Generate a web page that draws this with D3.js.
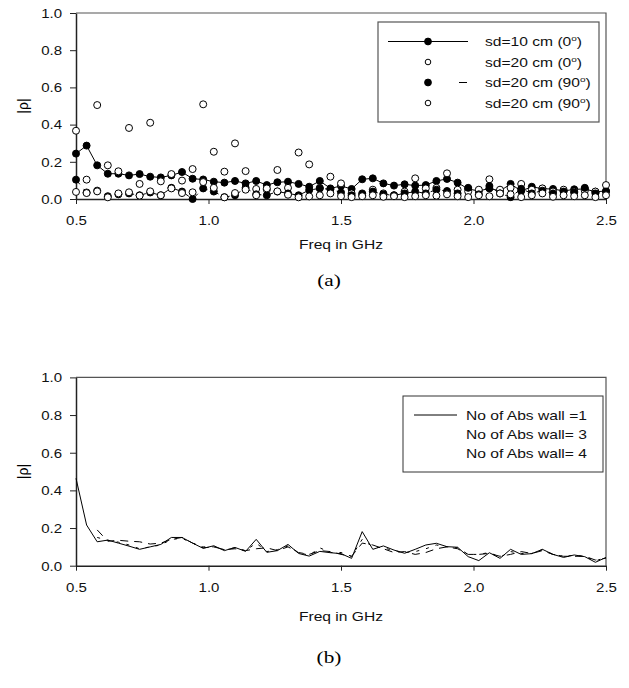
<!DOCTYPE html>
<html>
<head>
<meta charset="utf-8">
<script src="https://cdn.jsdelivr.net/npm/d3@7"></script>
<style>
body { margin: 0; background: #fff; }
text { font-family: "Liberation Sans", Arial, sans-serif; }
</style>
</head>
<body>
<script>
// frequency points (GHz)
var freq = [0.50, 0.54, 0.58, 0.62, 0.66, 0.70, 0.74, 0.78, 0.82, 0.86,
            0.90, 0.94, 0.98, 1.02, 1.06, 1.10, 1.14, 1.18, 1.22, 1.26,
            1.30, 1.34, 1.38, 1.42, 1.46, 1.50, 1.54, 1.58, 1.62, 1.66,
            1.70, 1.74, 1.78, 1.82, 1.86, 1.90, 1.94, 1.98, 2.02, 2.06,
            2.10, 2.14, 2.18, 2.22, 2.26, 2.30, 2.34, 2.38, 2.42, 2.46, 2.50];

// (a)
var sd10_0 = [0.244, 0.287, 0.181, 0.136, 0.136, 0.127, 0.134, 0.120, 0.116, 0.127,
              0.145, 0.109, 0.105, 0.093, 0.088, 0.097, 0.084, 0.097, 0.075, 0.090,
              0.093, 0.081, 0.066, 0.097, 0.057, 0.070, 0.054, 0.106, 0.111, 0.084,
              0.072, 0.079, 0.072, 0.075, 0.097, 0.108, 0.088, 0.054, 0.043, 0.057,
              0.043, 0.081, 0.043, 0.066, 0.055, 0.054, 0.043, 0.052, 0.054, 0.039, 0.043];
var sd20_0 = [0.367, 0.104, 0.505, 0.181, 0.149, 0.382, 0.081, 0.410, 0.095, 0.134,
              0.099, 0.161, 0.509, 0.254, 0.147, 0.299, 0.150, 0.054, 0.050, 0.156,
              0.060, 0.250, 0.186, 0.060, 0.120, 0.084, 0.030, 0.020, 0.050, 0.030,
              0.020, 0.040, 0.111, 0.057, 0.060, 0.138, 0.050, 0.040, 0.050, 0.106,
              0.050, 0.060, 0.081, 0.050, 0.057, 0.040, 0.050, 0.040, 0.045, 0.040, 0.075];
var sd20_90a = [0.104, 0.035, 0.045, 0.015, 0.025, 0.030, 0.020, 0.035, 0.020, 0.060,
                0.040, 0.000, 0.057, 0.040, 0.010, 0.020, 0.060, 0.025, 0.020, 0.040,
                0.030, 0.020, 0.048, 0.057, 0.052, 0.035, 0.020, 0.030, 0.040, 0.025,
                0.020, 0.030, 0.040, 0.030, 0.050, 0.043, 0.030, 0.060, 0.025, 0.070,
                0.030, 0.010, 0.055, 0.030, 0.045, 0.030, 0.040, 0.035, 0.060, 0.030, 0.040];
var sd20_90b = [0.038, 0.032, 0.041, 0.009, 0.030, 0.036, 0.018, 0.041, 0.020, 0.057,
                0.032, 0.036, 0.091, 0.060, 0.009, 0.032, 0.050, 0.020, 0.057, 0.041,
                0.023, 0.009, 0.014, 0.020, 0.030, 0.015, 0.010, 0.015, 0.020, 0.012,
                0.015, 0.010, 0.015, 0.020, 0.018, 0.025, 0.015, 0.010, 0.020, 0.015,
                0.030, 0.025, 0.010, 0.020, 0.030, 0.012, 0.020, 0.015, 0.020, 0.010, 0.020];

// (b)
var wall1 = [0.464, 0.216, 0.127, 0.136, 0.120, 0.104, 0.087, 0.100, 0.113, 0.150,
             0.150, 0.120, 0.092, 0.106, 0.080, 0.097, 0.076, 0.140, 0.071, 0.080,
             0.113, 0.065, 0.051, 0.076, 0.069, 0.064, 0.039, 0.181, 0.087, 0.105,
             0.083, 0.066, 0.087, 0.110, 0.119, 0.101, 0.098, 0.048, 0.027, 0.069,
             0.039, 0.087, 0.060, 0.064, 0.087, 0.060, 0.044, 0.057, 0.048, 0.018, 0.044];
var wall3 = [null, null, 0.190, 0.130, 0.135, 0.130, 0.127, 0.115, 0.120, 0.140,
             0.150, 0.120, 0.095, 0.100, 0.085, 0.090, 0.080, 0.090, 0.095, 0.080,
             0.100, 0.070, 0.060, 0.080, 0.075, 0.060, 0.050, 0.120, 0.110, 0.090,
             0.070, 0.075, 0.060, 0.070, 0.090, 0.100, 0.090, 0.060, 0.060, 0.065,
             0.050, 0.060, 0.075, 0.065, 0.080, 0.060, 0.050, 0.050, 0.050, 0.030, 0.040];
var wall4 = [null, null, 0.150, 0.135, 0.125, 0.110, 0.090, 0.100, 0.110, 0.140,
             0.145, 0.120, 0.100, 0.100, 0.085, 0.095, 0.080, 0.120, 0.075, 0.085,
             0.105, 0.070, 0.055, 0.095, 0.070, 0.070, 0.050, 0.140, 0.100, 0.095,
             0.080, 0.070, 0.075, 0.090, 0.110, 0.100, 0.095, 0.060, 0.060, 0.070,
             0.045, 0.075, 0.065, 0.065, 0.085, 0.060, 0.050, 0.055, 0.050, 0.025, 0.045];

var yTicks = [0.0, 0.2, 0.4, 0.6, 0.8, 1.0];
var xTicks = [0.5, 1.0, 1.5, 2.0, 2.5];

// the original figure is stretched sideways, so text is widened a bit
var sx = 1.25;

var svg = d3.select("body")
        .append("svg")
        .attr("width", 629)
        .attr("height", 688);

function zip(a1, a2) {
    var zipped = [];
    for (var i = 0; i < a1.length; i++) {
        zipped.push([a1[i], a2[i]]);
    }
    return zipped;
}

function label(x, y, txt, size, anchor) {
    return svg.append("text")
        .attr("transform", "translate(" + x + "," + y + ") scale(" + sx + ",1)")
        .attr("text-anchor", anchor || "start")
        .attr("font-size", size)
        .attr("fill", "#111")
        .text(txt);
}

function drawFrame(top, bottom, caption, titleY, captionY) {
    var x = d3.scaleLinear().domain([0.5, 2.5]).range([76, 606]);
    var y = d3.scaleLinear().domain([0, 1]).range([bottom, top]);

    // top / right border
    svg.append("path")
        .attr("d", "M76," + top + "H606V" + bottom)
        .attr("fill", "none")
        .attr("stroke", "#555")
        .attr("stroke-width", 1.2);

    var xAxis = svg.append("g")
        .attr("transform", "translate(0," + bottom + ")")
        .call(d3.axisBottom(x).tickValues(xTicks).tickFormat(d3.format(".1f")).tickSize(5).tickSizeOuter(0));
    var yAxis = svg.append("g")
        .attr("transform", "translate(76,0)")
        .call(d3.axisLeft(y).tickValues(yTicks).tickFormat(d3.format(".1f")).tickSize(6).tickSizeOuter(0));

    [xAxis, yAxis].forEach(g => {
        g.select(".domain").attr("stroke", "#222").attr("stroke-width", 1.5);
        g.selectAll(".tick line").attr("stroke", "#222");
        g.selectAll("text")
            .attr("font-family", "Liberation Sans, Arial, sans-serif")
            .attr("font-size", 12)
            .attr("fill", "#111")
            .attr("x", 0).attr("y", 0).attr("dy", 0);
    });
    xAxis.selectAll("text").attr("transform", "translate(0,26) scale(" + sx + ",1)");
    yAxis.selectAll("text").attr("transform", "translate(-14,4.3) scale(" + sx + ",1)");

    label(341, titleY, "Freq in GHz", 12.5, "middle");

    svg.append("text")
        .attr("transform", "translate(28," + ((top + bottom) / 2) + ") rotate(-90)")
        .attr("text-anchor", "middle")
        .attr("font-size", 14)
        .text("|ρ|");

    label(329, captionY, caption, 17, "middle")
        .style("font-family", "Liberation Serif, Times New Roman, serif")
        .attr("fill", "#000");

    return { x: x, y: y };
}

// ---------- (a) ----------
var a = drawFrame(13, 199, "(a)", 249, 286);

var line = d3.line()
    .defined(d => d[1] != null)
    .x(d => a.x(d[0]))
    .y(d => a.y(d[1]));

svg.append("path")
    .datum(zip(freq, sd10_0))
    .attr("d", line)
    .attr("fill", "none")
    .attr("stroke", "black")
    .attr("stroke-width", 1);

svg.append("path")
    .datum(zip(freq, sd20_90a))
    .attr("d", line)
    .attr("fill", "none")
    .attr("stroke", "black")
    .attr("stroke-width", 1)
    .attr("stroke-dasharray", "6,6");

var seriesA = [
    { vals: sd10_0, fill: "black" },
    { vals: sd20_0, fill: "white" },
    { vals: sd20_90a, fill: "black" },
    { vals: sd20_90b, fill: "white" }
];

seriesA.forEach((s, i) => {
    svg.selectAll(".m" + i)
        .data(zip(freq, s.vals))
        .enter()
        .append("circle")
        .attr("class", "m" + i)
        .attr("cx", d => a.x(d[0]))
        .attr("cy", d => a.y(d[1]))
        .attr("r", 3.5)
        .attr("fill", s.fill)
        .attr("stroke", "black")
        .attr("stroke-width", 1);
});

// legend (a)
svg.append("rect")
    .attr("x", 378).attr("y", 22)
    .attr("width", 221).attr("height", 100)
    .attr("fill", "white")
    .attr("stroke", "#555")
    .attr("stroke-width", 1.2);

var legA = ["sd=10 cm (0", "sd=20 cm (0", "sd=20 cm (90", "sd=20 cm (90"];
var legRowsA = [41.5, 62, 82.5, 103];

svg.append("line")
    .attr("x1", 388).attr("x2", 468)
    .attr("y1", legRowsA[0]).attr("y2", legRowsA[0])
    .attr("stroke", "black");
svg.append("line")
    .attr("x1", 459).attr("x2", 467)
    .attr("y1", legRowsA[2]).attr("y2", legRowsA[2])
    .attr("stroke", "black");

svg.selectAll(".legA")
    .data(legA)
    .enter()
    .append("circle")
    .attr("class", "legA")
    .attr("cx", 428)
    .attr("cy", (d, i) => legRowsA[i])
    .attr("r", (d, i) => i % 2 ? 2.8 : 3.4)
    .attr("fill", (d, i) => seriesA[i].fill)
    .attr("stroke", "black");

legA.forEach((d, i) => {
    var t = label(485, legRowsA[i] + 4.5, null, 12.5);
    t.append("tspan").text(d);
    t.append("tspan").attr("dy", -5).attr("font-size", 8).text("o");
    t.append("tspan").attr("dy", 5).text(")");
});

// ---------- (b) ----------
var b = drawFrame(377.4, 565.7, "(b)", 621, 663);

var lineB = d3.line()
    .defined(d => d[1] != null)
    .x(d => b.x(d[0]))
    .y(d => b.y(d[1]));

var seriesB = [
    { vals: wall1, dash: null },
    { vals: wall3, dash: "8,6" },
    { vals: wall4, dash: "3,7" }
];

seriesB.forEach(s => {
    svg.append("path")
        .datum(zip(freq, s.vals))
        .attr("d", lineB)
        .attr("fill", "none")
        .attr("stroke", "black")
        .attr("stroke-width", 1)
        .attr("stroke-dasharray", s.dash);
});

// legend (b)
svg.append("rect")
    .attr("x", 403).attr("y", 396)
    .attr("width", 200).attr("height", 76)
    .attr("fill", "white")
    .attr("stroke", "#333")
    .attr("stroke-width", 1);

var legB = ["No of Abs wall =1", "No of Abs wall= 3", "No of Abs wall= 4"];
var legRowsB = [415, 434, 453];

svg.append("line")
    .attr("x1", 414).attr("x2", 457)
    .attr("y1", legRowsB[0]).attr("y2", legRowsB[0])
    .attr("stroke", "black");

legB.forEach((d, i) => {
    label(466, legRowsB[i] + 4.5, d, 12.5);
});
</script>
</body>
</html>
